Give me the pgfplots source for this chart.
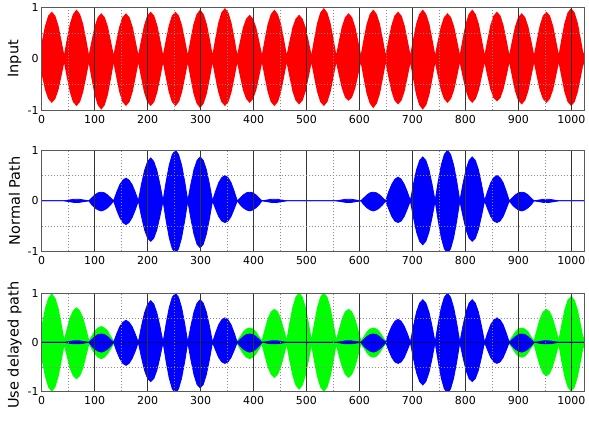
\documentclass[border=0pt]{standalone}
\usepackage{fontspec}
\setmainfont{DejaVu Sans}
\usepackage{pgfplots}
\usepackage{pgfplotstable}
\pgfplotsset{compat=1.18}

% envelope of the signals: x, input upper/lower, normal path upper/lower, delayed (green) upper/lower
\pgfplotstableread{
x iu il nu nl gu gl
-4.35 0.03 -0.03 0 0 0.02 -0.02
1.45 0.34 -0.32 0 0 0.37 -0.38
7.35 0.64 -0.60 0 0 0.70 -0.70
13.15 0.83 -0.77 0 0 0.90 -0.91
19.05 0.90 -0.84 0 0 0.98 -0.99
24.85 0.83 -0.77 0 0 0.90 -0.91
30.65 0.64 -0.60 0 0 0.70 -0.70
36.55 0.34 -0.32 0 0 0.37 -0.38
42.35 0.03 -0.03 0 0 0.02 -0.02
48.15 0.36 -0.34 0.01 -0.01 0.27 -0.28
54.05 0.67 -0.64 0.02 -0.02 0.50 -0.53
59.85 0.86 -0.83 0.03 -0.03 0.64 -0.68
65.75 0.94 -0.90 0.03 -0.03 0.70 -0.74
71.55 0.86 -0.83 0.03 -0.03 0.64 -0.68
77.35 0.67 -0.64 0.02 -0.02 0.50 -0.53
83.25 0.36 -0.34 0.01 -0.01 0.27 -0.28
89.05 0.03 -0.03 0 0 0.02 -0.02
94.85 0.33 -0.37 0.06 -0.08 0.12 -0.13
100.75 0.62 -0.69 0.12 -0.14 0.23 -0.23
106.55 0.80 -0.89 0.16 -0.18 0.29 -0.30
112.45 0.87 -0.97 0.17 -0.20 0.32 -0.33
118.25 0.80 -0.89 0.16 -0.18 0.29 -0.30
124.05 0.62 -0.69 0.12 -0.14 0.23 -0.23
129.95 0.33 -0.37 0.06 -0.08 0.12 -0.13
135.75 0.03 -0.03 0 0 0.02 -0.02
141.55 0.33 -0.34 0.17 -0.18 0.04 -0.04
147.45 0.62 -0.64 0.32 -0.33 0.07 -0.07
153.25 0.80 -0.83 0.41 -0.43 0.09 -0.09
159.15 0.87 -0.90 0.45 -0.47 0.10 -0.10
164.95 0.80 -0.83 0.41 -0.43 0.09 -0.09
170.75 0.62 -0.64 0.32 -0.33 0.07 -0.07
176.65 0.33 -0.34 0.17 -0.18 0.04 -0.04
182.45 0.03 -0.03 0 0 0.02 -0.02
188.25 0.34 -0.34 0.32 -0.30 0.02 -0.02
194.15 0.64 -0.64 0.60 -0.57 0.04 -0.04
199.95 0.83 -0.83 0.78 -0.74 0.05 -0.05
205.85 0.90 -0.90 0.85 -0.80 0.05 -0.05
211.65 0.83 -0.83 0.78 -0.74 0.05 -0.05
217.45 0.64 -0.64 0.60 -0.57 0.04 -0.04
223.35 0.34 -0.34 0.32 -0.30 0.02 -0.02
229.15 0.03 -0.03 0 0 0.02 -0.02
234.95 0.34 -0.34 0.38 -0.39 0.01 -0.01
240.85 0.64 -0.64 0.71 -0.73 0.01 -0.01
246.65 0.83 -0.83 0.92 -0.95 0.02 -0.02
252.55 0.90 -0.90 1.00 -1.03 0.02 -0.02
258.35 0.83 -0.83 0.92 -0.95 0.02 -0.02
264.15 0.64 -0.64 0.71 -0.73 0.01 -0.01
270.05 0.34 -0.34 0.38 -0.39 0.01 -0.01
275.85 0.03 -0.03 0 0 0.02 -0.02
281.65 0.36 -0.36 0.33 -0.35 0.02 -0.02
287.55 0.67 -0.67 0.62 -0.66 0.04 -0.04
293.35 0.86 -0.86 0.80 -0.86 0.05 -0.05
299.25 0.94 -0.94 0.87 -0.93 0.05 -0.05
305.05 0.86 -0.86 0.80 -0.86 0.05 -0.05
310.85 0.67 -0.67 0.62 -0.66 0.04 -0.04
316.75 0.36 -0.36 0.33 -0.35 0.02 -0.02
322.55 0.03 -0.03 0 0 0.02 -0.02
328.35 0.37 -0.34 0.19 -0.16 0.04 -0.04
334.25 0.69 -0.64 0.36 -0.31 0.07 -0.07
340.05 0.89 -0.83 0.46 -0.40 0.09 -0.09
345.95 0.97 -0.90 0.50 -0.43 0.10 -0.10
351.75 0.89 -0.83 0.46 -0.40 0.09 -0.09
357.55 0.69 -0.64 0.36 -0.31 0.07 -0.07
363.45 0.37 -0.34 0.19 -0.16 0.04 -0.04
369.25 0.03 -0.03 0 0 0.02 -0.02
375.05 0.32 -0.32 0.06 -0.08 0.11 -0.13
380.95 0.60 -0.60 0.12 -0.14 0.21 -0.23
386.75 0.77 -0.77 0.16 -0.18 0.27 -0.30
392.65 0.84 -0.84 0.17 -0.20 0.29 -0.33
398.45 0.77 -0.77 0.16 -0.18 0.27 -0.30
404.25 0.60 -0.60 0.12 -0.14 0.21 -0.23
410.15 0.32 -0.32 0.06 -0.08 0.11 -0.13
415.95 0.03 -0.03 0 0 0.02 -0.02
421.75 0.36 -0.34 0.01 -0.01 0.25 -0.27
427.65 0.67 -0.64 0.02 -0.02 0.48 -0.50
433.45 0.86 -0.83 0.03 -0.03 0.62 -0.65
439.35 0.94 -0.90 0.03 -0.03 0.67 -0.71
445.15 0.86 -0.83 0.03 -0.03 0.62 -0.65
450.95 0.67 -0.64 0.02 -0.02 0.48 -0.50
456.85 0.36 -0.34 0.01 -0.01 0.25 -0.27
462.65 0.03 -0.03 0 0 0.02 -0.02
468.45 0.32 -0.33 0 0 0.38 -0.36
474.35 0.60 -0.62 0 0 0.71 -0.67
480.15 0.77 -0.80 0 0 0.92 -0.87
486.05 0.84 -0.87 0 0 1.00 -0.95
491.85 0.77 -0.80 0 0 0.92 -0.87
497.65 0.60 -0.62 0 0 0.71 -0.67
503.55 0.32 -0.33 0 0 0.38 -0.36
509.35 0.03 -0.03 0 0 0.02 -0.02
515.15 0.37 -0.34 0 0 0.38 -0.38
521.05 0.69 -0.64 0 0 0.71 -0.70
526.85 0.89 -0.83 0 0 0.92 -0.91
532.75 0.97 -0.90 0 0 1.00 -0.99
538.55 0.89 -0.83 0 0 0.92 -0.91
544.35 0.69 -0.64 0 0 0.71 -0.70
550.25 0.37 -0.34 0 0 0.38 -0.38
556.05 0.03 -0.03 0 0 0.02 -0.02
561.85 0.33 -0.30 0.01 -0.01 0.25 -0.27
567.75 0.62 -0.57 0.02 -0.02 0.48 -0.50
573.55 0.80 -0.74 0.03 -0.03 0.62 -0.65
579.45 0.87 -0.80 0.03 -0.03 0.67 -0.71
585.25 0.80 -0.74 0.03 -0.03 0.62 -0.65
591.05 0.62 -0.57 0.02 -0.02 0.48 -0.50
596.95 0.33 -0.30 0.01 -0.01 0.25 -0.27
602.75 0.03 -0.03 0 0 0.02 -0.02
608.55 0.36 -0.36 0.06 -0.08 0.11 -0.11
614.45 0.67 -0.67 0.12 -0.14 0.21 -0.21
620.25 0.86 -0.86 0.16 -0.18 0.27 -0.28
626.15 0.94 -0.94 0.17 -0.20 0.29 -0.30
631.95 0.86 -0.86 0.16 -0.18 0.27 -0.28
637.75 0.67 -0.67 0.12 -0.14 0.21 -0.21
643.65 0.36 -0.36 0.06 -0.08 0.11 -0.11
649.45 0.03 -0.03 0 0 0.02 -0.02
655.25 0.34 -0.33 0.18 -0.16 0.04 -0.04
661.15 0.64 -0.62 0.33 -0.31 0.07 -0.07
666.95 0.83 -0.80 0.43 -0.40 0.09 -0.09
672.85 0.90 -0.87 0.47 -0.43 0.10 -0.10
678.65 0.83 -0.80 0.43 -0.40 0.09 -0.09
684.45 0.64 -0.62 0.33 -0.31 0.07 -0.07
690.35 0.34 -0.33 0.18 -0.16 0.04 -0.04
696.15 0.03 -0.03 0 0 0.02 -0.02
701.95 0.36 -0.37 0.33 -0.33 0.02 -0.02
707.85 0.67 -0.69 0.62 -0.62 0.04 -0.04
713.65 0.86 -0.89 0.80 -0.80 0.05 -0.05
719.55 0.94 -0.97 0.87 -0.87 0.05 -0.05
725.35 0.86 -0.89 0.80 -0.80 0.05 -0.05
731.15 0.67 -0.69 0.62 -0.62 0.04 -0.04
737.05 0.36 -0.37 0.33 -0.33 0.02 -0.02
742.85 0.03 -0.03 0 0 0.02 -0.02
748.65 0.33 -0.32 0.38 -0.39 0.01 -0.01
754.55 0.62 -0.60 0.71 -0.73 0.01 -0.01
760.35 0.80 -0.77 0.92 -0.95 0.02 -0.02
766.25 0.87 -0.84 1.00 -1.03 0.02 -0.02
772.05 0.80 -0.77 0.92 -0.95 0.02 -0.02
777.85 0.62 -0.60 0.71 -0.73 0.01 -0.01
783.75 0.33 -0.32 0.38 -0.39 0.01 -0.01
789.55 0.03 -0.03 0 0 0.02 -0.02
795.35 0.36 -0.32 0.33 -0.30 0.02 -0.02
801.25 0.67 -0.60 0.62 -0.57 0.04 -0.04
807.05 0.86 -0.77 0.80 -0.74 0.05 -0.05
812.95 0.94 -0.84 0.87 -0.80 0.05 -0.05
818.75 0.86 -0.77 0.80 -0.74 0.05 -0.05
824.55 0.67 -0.60 0.62 -0.57 0.04 -0.04
830.45 0.36 -0.32 0.33 -0.30 0.02 -0.02
836.25 0.03 -0.03 0 0 0.02 -0.02
842.05 0.34 -0.31 0.19 -0.16 0.04 -0.04
847.95 0.64 -0.58 0.36 -0.31 0.07 -0.07
853.75 0.83 -0.75 0.46 -0.40 0.09 -0.09
859.65 0.90 -0.81 0.50 -0.43 0.10 -0.10
865.45 0.83 -0.75 0.46 -0.40 0.09 -0.09
871.25 0.64 -0.58 0.36 -0.31 0.07 -0.07
877.15 0.34 -0.31 0.19 -0.16 0.04 -0.04
882.95 0.03 -0.03 0 0 0.02 -0.02
888.75 0.33 -0.33 0.06 -0.08 0.11 -0.11
894.65 0.62 -0.62 0.12 -0.14 0.21 -0.21
900.45 0.80 -0.80 0.16 -0.18 0.27 -0.28
906.35 0.87 -0.87 0.17 -0.20 0.29 -0.30
912.15 0.80 -0.80 0.16 -0.18 0.27 -0.28
917.95 0.62 -0.62 0.12 -0.14 0.21 -0.21
923.85 0.33 -0.33 0.06 -0.08 0.11 -0.11
929.65 0.03 -0.03 0 0 0.02 -0.02
935.45 0.34 -0.32 0.01 -0.01 0.25 -0.26
941.35 0.64 -0.60 0.02 -0.02 0.48 -0.48
947.15 0.83 -0.77 0.03 -0.03 0.62 -0.63
953.05 0.90 -0.84 0.03 -0.03 0.67 -0.68
958.85 0.83 -0.77 0.03 -0.03 0.62 -0.63
964.65 0.64 -0.60 0.02 -0.02 0.48 -0.48
970.55 0.34 -0.32 0.01 -0.01 0.25 -0.26
976.35 0.03 -0.03 0 0 0.02 -0.02
982.15 0.37 -0.34 0 0 0.35 -0.38
988.05 0.69 -0.64 0 0 0.66 -0.70
993.85 0.89 -0.83 0 0 0.86 -0.91
999.75 0.97 -0.90 0 0 0.93 -0.99
1005.55 0.89 -0.83 0 0 0.86 -0.91
1011.35 0.69 -0.64 0 0 0.66 -0.70
1017.25 0.37 -0.34 0 0 0.35 -0.38
1023.05 0.03 -0.03 0 0 0.02 -0.02
1028.85 0.34 -0.32 0 0 0.35 -0.35
}\sig

\definecolor{navyline}{RGB}{0,0,140}

\pgfplotsset{
  sigax/.style={
    scale only axis, width=542.3pt, anchor=south west,
    xmin=0, xmax=1024, ymin=-1, ymax=1,
    xtick={0,100,200,300,400,500,600,700,800,900,1000},
    xticklabels={0,100,200,300,400,500,600,700,800,900,1000},
    ytick={-1,0,1}, yticklabels={-1,0,1},
    minor xtick={50,150,250,350,450,550,650,750,850,950}, minor ytick={-0.5,0.5},
    xmajorgrids, xminorgrids, yminorgrids,
    major grid style={black!80, line width=0.5pt},
    minor grid style={black!45, line width=0.5pt, dash pattern=on 1pt off 2pt},
    axis line style={black!65, line width=0.6pt},
    major tick length=0.1pt, minor tick length=0.1pt,
    tick style={draw=none},
    tick label style={font=\fontsize{11}{13}\selectfont, text=black},
    xticklabel style={yshift=-1pt},
    yticklabel style={xshift=0.5pt},
    axis on top,
    ylabel style={font=\fontsize{14.5}{17}\selectfont},
  }
}

\begin{document}
\begin{tikzpicture}
\draw[draw=none] (0pt,0pt) rectangle (589pt,423pt);

% Input
\begin{axis}[sigax, at={(41.7pt,313pt)}, height=103pt, ylabel={Input},
  ylabel style={at={(axis description cs:-0.05,0.5)}, anchor=center}]
\addplot[fill=red, draw=red, line width=1.1pt] table[x=x, y=iu] {\sig} \closedcycle;
\addplot[fill=red, draw=red, line width=1.1pt] table[x=x, y=il] {\sig} \closedcycle;
\end{axis}

% Normal Path
\begin{axis}[sigax, at={(41.7pt,172pt)}, height=101pt, ylabel={Normal Path},
  ylabel style={at={(axis description cs:-0.05,0.5)}, anchor=center}]
\addplot[fill=blue, draw=blue, line width=0.8pt] table[x=x, y=nu] {\sig} \closedcycle;
\addplot[fill=blue, draw=blue, line width=0.8pt] table[x=x, y=nl] {\sig} \closedcycle;
\end{axis}

% Use delayed path
\begin{axis}[sigax, at={(41.7pt,32pt)}, height=98pt, ylabel={Use delayed path},
  ylabel style={at={(axis description cs:-0.05,0.47)}, anchor=center}]
\addplot[fill=green, draw=green, line width=1.1pt] table[x=x, y=gu] {\sig} \closedcycle;
\addplot[fill=green, draw=green, line width=1.1pt] table[x=x, y=gl] {\sig} \closedcycle;
\addplot[fill=blue, draw=blue, line width=0.8pt] table[x=x, y=nu] {\sig} \closedcycle;
\addplot[fill=blue, draw=blue, line width=0.8pt] table[x=x, y=nl] {\sig} \closedcycle;
\addplot[navyline, line width=1pt] coordinates {(0,0) (1024,0)};
\end{axis}
\end{tikzpicture}
\end{document}
